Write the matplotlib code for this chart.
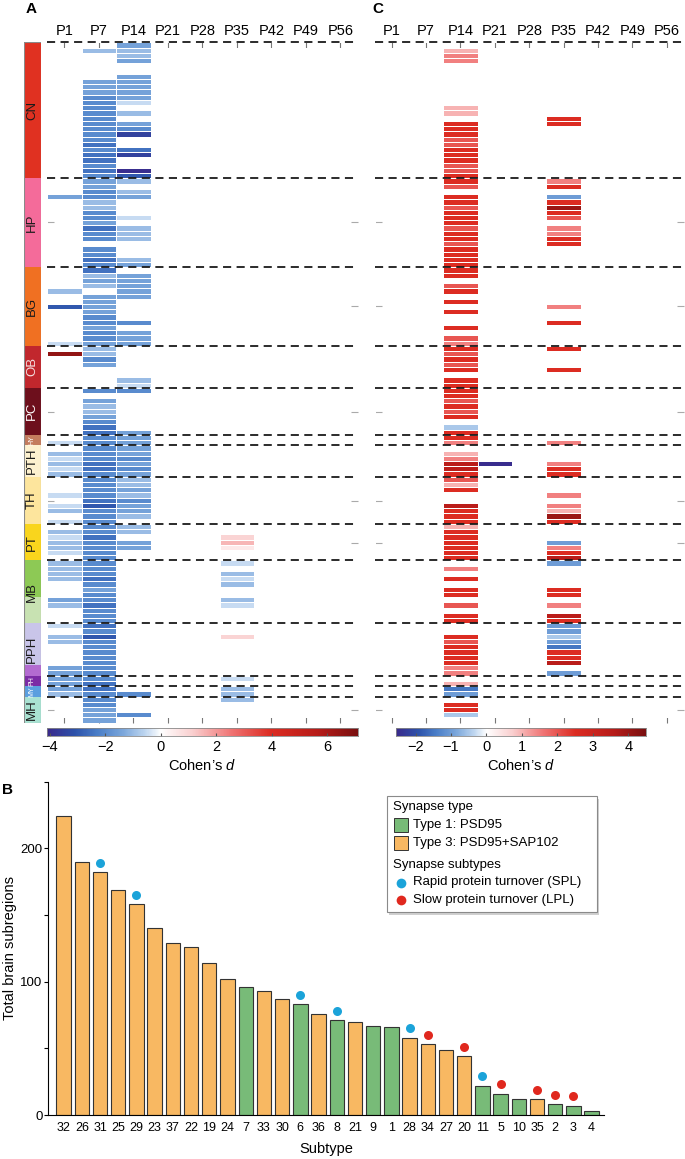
import numpy as np
import matplotlib.pyplot as plt
from matplotlib.colors import LinearSegmentedColormap, TwoSlopeNorm
from matplotlib.patches import Rectangle

plt.rcParams['font.family'] = ['Liberation Sans', 'DejaVu Sans']
plt.rcParams['mathtext.fontset'] = 'custom'
plt.rcParams['mathtext.it'] = 'Liberation Sans:italic'
plt.rcParams['mathtext.rm'] = 'Liberation Sans'

# ---- heatmap layout data ----
ages = ['P1', 'P7', 'P14', 'P21', 'P28', 'P35', 'P42', 'P49', 'P56']
regions = ['CN', 'HP', 'BG', 'OB', 'PC', 'HY', 'PTH', 'TH', 'PT', 'MB', 'PPH', 'PH', 'MY', 'MH']
region_rows = [26, 17, 15, 8, 9, 2, 6, 9, 7, 12, 10, 2, 2, 5]
region_colors = ['#e03121', '#f46b9a', '#f07022', '#c1272d', '#6d0f1c', '#c47c5e', '#fdf1cf',
                 '#fde59d', '#f9d51d', '#8dc955', '#c9c5e9', '#7b2ba5', '#5b9fdf', '#a9e2d2']
region_text = ['#1a1a1a', '#1a1a1a', '#1a1a1a', '#f4dede', 'white', 'white', '#1a1a1a',
               '#1a1a1a', '#1a1a1a', '#1a1a1a', '#1a1a1a', 'white', 'white', '#1a1a1a']
ytick_rows = [34.4, 50.4, 70.6, 87.6, 95.7, 127.6]

# cell codes per region: '.' empty, a..h = -0.5..-4, A..N = +0.5..+7
a_p1 = ['', '...c', '....b..f......a', '.M', '', '.a', '.babab', '...a.ab.a', '.babba',
        'bbbb...cb', 'a.bb....cc', 'cc', 'cb', '']
a_p7 = ['.b.....cccdddddddddedeeded', 'ccddbbddcedd.dded', 'ebcb.ccccddcddc', 'bbdc',
        'd.cbbcdee', 'dd', 'dddeed', 'ddddefddd', 'ddedddd', 'dddedcddeddd', 'edfddddddd',
        'de', 'ed', 'ddccc']
a_p14 = ['cbbc..ccccca.b.cdg..eg..hf', 'b.bc...a.bbb...bc', '.ccccc....d.ccc', '......ba',
         'd.......c', 'cc', 'ccdcdc', 'bbcbdccb', 'bb.cc', '', '', '', '.d', '...d']
a_p35 = ['', '', '', '', '', '', '', '', '..BCA', 'a.bab..ba', '..B', 'a', 'bb', 'b']

c_p14 = ['.BCC........BB.EEEDDEEEDDE', 'ED.EEDEEEDEEDEEEE', 'EE.DE.E.E..E.DC', 'EDEDE.EE',
         'EEDEDE.aE', 'EC', '.BCGGE', 'DBE..GEEE', 'BEEEEEE', '.C.E.EE.D.EE', '..EDEEEECC',
         '.B', 'cb', '.EEa']
c_p21 = ['', '', '', '', '', '', '...e']
c_p35 = ['..............EE', 'CE.bEHED.CCEE', '.......C..E', 'E...E', '', '.C', '...CEE',
         '...C.CBHE', '...bCEG', 'b....EE.C.GE', 'bbabcEEG.b']

# ---- panel B data ----
subtypes = ['32', '26', '31', '25', '29', '23', '37', '22', '19', '24', '7', '33', '30', '6', '36',
            '8', '21', '9', '1', '28', '34', '27', '20', '11', '5', '10', '35', '2', '3', '4']
counts = [224, 190, 182, 169, 158, 140, 129, 126, 114, 102, 96, 93, 87, 83, 76,
          71, 70, 67, 66, 58, 53, 49, 44, 22, 16, 12, 12, 8, 7, 3]
syn_type = [3, 3, 3, 3, 3, 3, 3, 3, 3, 3, 1, 3, 3, 1, 3, 1, 3, 1, 1, 3, 3, 3, 3, 1, 1, 1, 3, 1, 1, 1]
spl = ['31', '29', '6', '8', '28', '11']
lpl = ['34', '20', '5', '35', '2', '3']

green, orange = '#78bb78', '#f8b862'
blue_dot, red_dot = '#1ba3d9', '#e0281e'


def decode(parts):
    vals = []
    parts = list(parts) + [''] * (len(region_rows) - len(parts))
    for s, n in zip(parts, region_rows):
        for ch in s.ljust(n, '.')[:n]:
            if ch == '.':
                vals.append(np.nan)
            elif ch.islower():
                vals.append(-0.5 * (ord(ch) - 96))
            else:
                vals.append(0.5 * (ord(ch) - 64))
    return np.array(vals)


def build(cols):
    M = np.full((sum(region_rows), len(ages)), np.nan)
    for age, parts in cols.items():
        M[:, ages.index(age)] = decode(parts)
    return M


cmap = LinearSegmentedColormap.from_list('cohen', [
    (0.0, '#3a2a8c'), (0.12, '#2d52aa'), (0.22, '#4a7ec8'), (0.33, '#7aa6db'), (0.43, '#bed6f0'),
    (0.5, '#ffffff'), (0.58, '#fad0d0'), (0.68, '#f07474'), (0.78, '#dc2c22'), (0.9, '#b71c19'),
    (1.0, '#7a1010')])

W, H = 685, 1159
fig = plt.figure(figsize=(W / 100, H / 100), dpi=100)


def px(x0, y0, x1, y1):
    return [x0 / W, 1 - y1 / H, (x1 - x0) / W, (y1 - y0) / H]


bounds = np.concatenate([[0], np.cumsum(region_rows)])
nrows = bounds[-1]


def heat(rect, M, norm):
    ax = fig.add_axes(rect)
    ax.pcolormesh(np.arange(len(ages) + 1), np.arange(nrows + 1), np.ma.masked_invalid(M),
                  cmap=cmap, norm=norm, edgecolors='white', linewidth=0.6)
    ax.set_xlim(0, len(ages))
    ax.set_ylim(nrows, 0)
    for b in bounds[:-1]:
        ax.axhline(b, color='#1a1a1a', lw=1.3, ls=(0, (4.5, 3)), zorder=5, clip_on=False)
    ax.set_axisbelow(True)
    for s in ax.spines.values():
        s.set_visible(False)
    ax.set_xticks(np.arange(len(ages)) + 0.5)
    ax.set_xticklabels(ages)
    ax.tick_params(axis='x', top=True, bottom=True, labeltop=True, labelbottom=False,
                   direction='in', length=4, color='#777777', pad=3, labelsize=10.5)
    ax.set_yticks(ytick_rows)
    ax.tick_params(axis='y', left=True, right=True, labelleft=False, direction='in',
                   length=5, color='#aaaaaa')
    return ax


def cbar(rect, norm, ticks):
    cax = fig.add_axes(rect)
    v = np.linspace(norm.vmin, norm.vmax, 400)
    cax.imshow(v[None, :], cmap=cmap, norm=norm, aspect='auto',
               extent=[norm.vmin, norm.vmax, 0, 1])
    cax.set_yticks([])
    cax.set_xticks(ticks)
    cax.tick_params(axis='x', direction='in', length=2, color='#555555', labelsize=10.5, pad=3)
    for s in cax.spines.values():
        s.set_color('#888888')
        s.set_linewidth(0.6)
    cax.set_xlabel('Cohen\u2019s $d$', fontsize=10.5, labelpad=3)


norm_a = TwoSlopeNorm(vcenter=0, vmin=-4.1, vmax=7.1)
norm_c = TwoSlopeNorm(vcenter=0, vmin=-2.55, vmax=4.5)

heat(px(47, 42.3, 357.5, 722.7),
     build({'P1': a_p1, 'P7': a_p7, 'P14': a_p14, 'P35': a_p35}), norm_a)
heat(px(374.5, 42.3, 684, 722.7),
     build({'P14': c_p14, 'P21': c_p21, 'P35': c_p35}), norm_c)
cbar(px(47, 727.7, 357.5, 735.5), norm_a, [-4, -2, 0, 2, 4, 6])
cbar(px(396, 727.7, 646, 735.5), norm_c, [-2, -1, 0, 1, 2, 3, 4])

# region colour bar
rb = fig.add_axes(px(23.5, 42.3, 40.5, 722.7))
rb.set_xlim(0, 1)
rb.set_ylim(nrows, 0)
rb.axis('off')
for i, name in enumerate(regions):
    y0, n = bounds[i], region_rows[i]
    rb.add_patch(Rectangle((0, y0), 1, n, facecolor=region_colors[i], edgecolor='none'))
    if name == 'MB':
        rb.add_patch(Rectangle((0, y0 + 7), 1, n - 7, facecolor='#c8e2b2', edgecolor='none'))
    if name == 'PPH':
        rb.add_patch(Rectangle((0, y0 + 8), 1, n - 8, facecolor='#b36bd0', edgecolor='none'))
    fs = 9.5 if n > 3 else 5
    rb.text(0.5, y0 + n / 2, name, rotation=90, ha='center', va='center',
            fontsize=fs, color=region_text[i])
rb.add_patch(Rectangle((0, 0), 1, nrows, facecolor='none', edgecolor='#8a8a8a', lw=0.8))

# ---- panel B ----
axb = fig.add_axes(px(48, 781.7, 604, 1115))
x = np.arange(len(subtypes))
cols = [green if t == 1 else orange for t in syn_type]
axb.bar(x, counts, width=0.79, color=cols, edgecolor='#333333', linewidth=0.8)
for lst, c in ((spl, blue_dot), (lpl, red_dot)):
    idx = [subtypes.index(s) for s in lst]
    axb.plot(idx, [counts[i] + 7 for i in idx], 'o', ms=6.5, color=c, mec='none')
axb.set_xlim(-0.86, len(subtypes) - 0.32)
axb.set_ylim(0, 250)
axb.set_xticks(x)
axb.set_xticklabels(subtypes, fontsize=9)
axb.tick_params(axis='x', length=0, pad=5)
axb.set_yticks([0, 50, 100, 150, 200, 250])
axb.set_yticklabels(['0', '', '100', '', '200', ''], fontsize=9.5)
axb.tick_params(axis='y', length=3, pad=1)
for s in ('top', 'right'):
    axb.spines[s].set_visible(False)
axb.set_xlabel('Subtype', fontsize=10.5, labelpad=6)
axb.set_ylabel('Total brain subregions', fontsize=10.5, labelpad=2)

# overlay for panel letters and legend
ov = fig.add_axes([0, 0, 1, 1])
ov.set_xlim(0, W)
ov.set_ylim(H, 0)
ov.axis('off')
ov.text(31, 9, 'A', fontsize=11, fontweight='bold', ha='center', va='center')
ov.text(378, 9, 'C', fontsize=11, fontweight='bold', ha='center', va='center')
ov.text(8, 790, 'B', fontsize=11, fontweight='bold', ha='center', va='center')

ov.add_patch(Rectangle((389.5, 798.5), 210, 116, facecolor='#d0d0d0', edgecolor='none'))
ov.add_patch(Rectangle((387, 796), 210, 116, facecolor='white', edgecolor='#8a8a8a', lw=0.8))
ov.text(393, 807, 'Synapse type', va='center', fontsize=9.5)
ov.add_patch(Rectangle((394, 818), 14, 14, facecolor=green, edgecolor='#333333', lw=0.7))
ov.text(413, 825, 'Type 1: PSD95', va='center', fontsize=9.5)
ov.add_patch(Rectangle((394, 836), 14, 14, facecolor=orange, edgecolor='#333333', lw=0.7))
ov.text(413, 843, 'Type 3: PSD95+SAP102', va='center', fontsize=9.5)
ov.text(393, 865, 'Synapse subtypes', va='center', fontsize=9.5)
ov.plot([401], [882.5], 'o', ms=7, color=blue_dot, mec='none')
ov.text(413, 882.5, 'Rapid protein turnover (SPL)', va='center', fontsize=9.5)
ov.plot([401], [899.5], 'o', ms=7, color=red_dot, mec='none')
ov.text(413, 899.5, 'Slow protein turnover (LPL)', va='center', fontsize=9.5)

fig.savefig('out.png', dpi=100)
